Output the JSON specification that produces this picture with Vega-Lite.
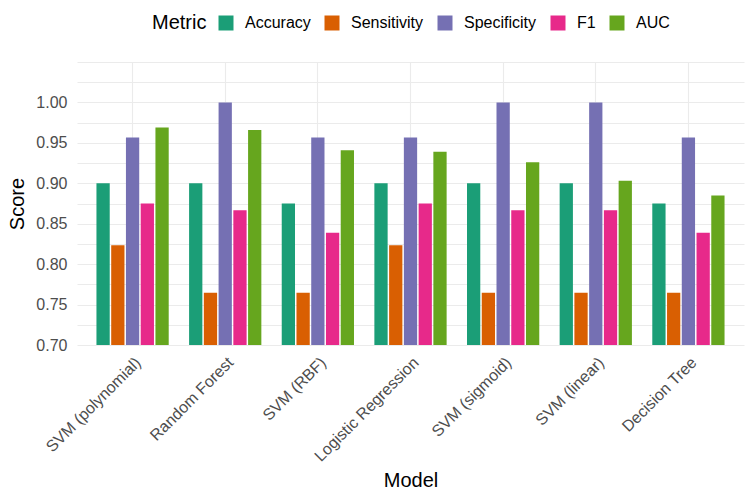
{
  "$schema": "https://vega.github.io/schema/vega-lite/v6.json",
  "width": 667,
  "height": 283,
  "autosize": "none",
  "padding": {"left": 77, "top": 62, "right": 6, "bottom": 158},
  "background": "white",
  "config": {
    "font": "Liberation Sans",
    "view": {"stroke": null},
    "axis": {"domain": false, "ticks": false, "gridColor": "#EBEBEB", "gridWidth": 1.1, "labelColor": "#4D4D4D", "labelFontSize": 16, "titleFontSize": 20, "titleFontWeight": "normal", "titleColor": "black", "labelFont": "Liberation Sans", "titleFont": "Liberation Sans"},
    "legend": {"labelFont": "Liberation Sans", "titleFont": "Liberation Sans"}
  },
  "data": {
    "values": [
      {"Model": "SVM (polynomial)", "Metric": "Accuracy", "Score": 0.9},
      {"Model": "SVM (polynomial)", "Metric": "Sensitivity", "Score": 0.8235},
      {"Model": "SVM (polynomial)", "Metric": "Specificity", "Score": 0.9565},
      {"Model": "SVM (polynomial)", "Metric": "F1", "Score": 0.875},
      {"Model": "SVM (polynomial)", "Metric": "AUC", "Score": 0.969},
      {"Model": "Random Forest", "Metric": "Accuracy", "Score": 0.9},
      {"Model": "Random Forest", "Metric": "Sensitivity", "Score": 0.7647},
      {"Model": "Random Forest", "Metric": "Specificity", "Score": 1.0},
      {"Model": "Random Forest", "Metric": "F1", "Score": 0.8667},
      {"Model": "Random Forest", "Metric": "AUC", "Score": 0.966},
      {"Model": "SVM (RBF)", "Metric": "Accuracy", "Score": 0.875},
      {"Model": "SVM (RBF)", "Metric": "Sensitivity", "Score": 0.7647},
      {"Model": "SVM (RBF)", "Metric": "Specificity", "Score": 0.9565},
      {"Model": "SVM (RBF)", "Metric": "F1", "Score": 0.8387},
      {"Model": "SVM (RBF)", "Metric": "AUC", "Score": 0.941},
      {"Model": "Logistic Regression", "Metric": "Accuracy", "Score": 0.9},
      {"Model": "Logistic Regression", "Metric": "Sensitivity", "Score": 0.8235},
      {"Model": "Logistic Regression", "Metric": "Specificity", "Score": 0.9565},
      {"Model": "Logistic Regression", "Metric": "F1", "Score": 0.875},
      {"Model": "Logistic Regression", "Metric": "AUC", "Score": 0.939},
      {"Model": "SVM (sigmoid)", "Metric": "Accuracy", "Score": 0.9},
      {"Model": "SVM (sigmoid)", "Metric": "Sensitivity", "Score": 0.7647},
      {"Model": "SVM (sigmoid)", "Metric": "Specificity", "Score": 1.0},
      {"Model": "SVM (sigmoid)", "Metric": "F1", "Score": 0.8667},
      {"Model": "SVM (sigmoid)", "Metric": "AUC", "Score": 0.926},
      {"Model": "SVM (linear)", "Metric": "Accuracy", "Score": 0.9},
      {"Model": "SVM (linear)", "Metric": "Sensitivity", "Score": 0.7647},
      {"Model": "SVM (linear)", "Metric": "Specificity", "Score": 1.0},
      {"Model": "SVM (linear)", "Metric": "F1", "Score": 0.8667},
      {"Model": "SVM (linear)", "Metric": "AUC", "Score": 0.903},
      {"Model": "Decision Tree", "Metric": "Accuracy", "Score": 0.875},
      {"Model": "Decision Tree", "Metric": "Sensitivity", "Score": 0.7647},
      {"Model": "Decision Tree", "Metric": "Specificity", "Score": 0.9565},
      {"Model": "Decision Tree", "Metric": "F1", "Score": 0.8387},
      {"Model": "Decision Tree", "Metric": "AUC", "Score": 0.885}
    ]
  },
  "mark": {"type": "bar", "clip": true},
  "encoding": {
    "x": {
      "field": "Model",
      "type": "nominal",
      "sort": ["SVM (polynomial)", "Random Forest", "SVM (RBF)", "Logistic Regression", "SVM (sigmoid)", "SVM (linear)", "Decision Tree"],
      "scale": {"paddingInner": 0.22, "paddingOuter": 0.21},
      "axis": {"labelAngle": -45, "labelAlign": "right", "labelBaseline": "top", "labelPadding": 9, "bandPosition": 0.5, "grid": true, "title": "Model", "titlePadding": 6}
    },
    "xOffset": {
      "field": "Metric",
      "type": "nominal",
      "sort": ["Accuracy", "Sensitivity", "Specificity", "F1", "AUC"],
      "scale": {"paddingInner": 0.1, "paddingOuter": 0}
    },
    "y": {
      "field": "Score",
      "type": "quantitative",
      "scale": {"domain": [0.7, 1.05], "zero": false, "nice": false},
      "axis": {
        "values": [0.7, 0.725, 0.75, 0.775, 0.8, 0.825, 0.85, 0.875, 0.9, 0.925, 0.95, 0.975, 1.0, 1.025, 1.05],
        "labelExpr": "(round(datum.value * 1000) % 50 == 0 && datum.value < 1.001) ? format(datum.value, '.2f') : ''",
        "labelPadding": 10,
        "title": "Score",
        "titlePadding": 8
      }
    },
    "color": {
      "field": "Metric",
      "type": "nominal",
      "sort": ["Accuracy", "Sensitivity", "Specificity", "F1", "AUC"],
      "scale": {"domain": ["Accuracy", "Sensitivity", "Specificity", "F1", "AUC"], "range": ["#1B9E77", "#D95F02", "#7570B3", "#E7298A", "#66A61E"]},
      "legend": {
        "orient": "none",
        "direction": "horizontal",
        "legendX": 75,
        "legendY": -47,
        "title": "Metric",
        "titleOrient": "left",
        "titleFontSize": 20,
        "titleFontWeight": "normal",
        "titleColor": "black",
        "titlePadding": 11,
        "titleBaseline": "middle",
        "labelFontSize": 16,
        "labelColor": "black",
        "symbolType": "square",
        "symbolSize": 225,
        "symbolStrokeWidth": 0,
        "symbolOpacity": 1,
        "labelOffset": 11,
        "columnPadding": 13
      }
    }
  }
}
